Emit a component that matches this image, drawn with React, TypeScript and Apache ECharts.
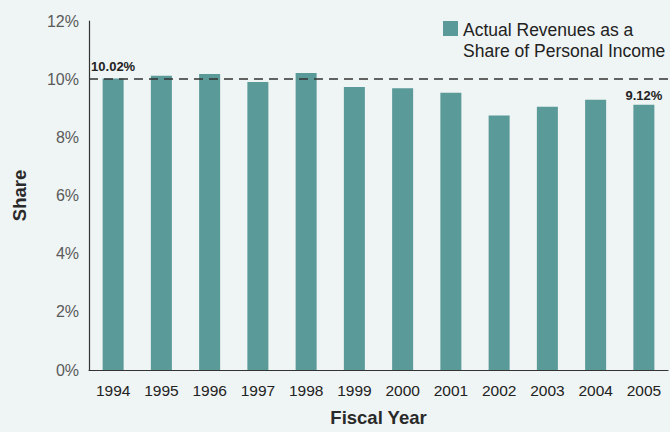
import React, { useEffect, useRef } from "react";
import * as echarts from "echarts";

const years = ["1994", "1995", "1996", "1997", "1998", "1999", "2000", "2001", "2002", "2003", "2004", "2005"];
const shares = [10.02, 10.12, 10.18, 9.9, 10.21, 9.73, 9.69, 9.53, 8.75, 9.05, 9.29, 9.12];
const labeledIndices = [0, 11];
const referenceLevel = 10;
const legendLines = ["Actual Revenues as a", "Share of Personal Income"];

const FONT = "'Liberation Sans', Arial, Helvetica, sans-serif";
const BAR = "#5a9a98";

export default function App() {
  const ref = useRef<HTMLDivElement>(null);
  useEffect(() => {
    if (!ref.current) return;
    const chart = echarts.init(ref.current, null, { renderer: "svg" });
    chart.setOption({
      animation: false,
      backgroundColor: "#eff4f4",
      grid: { left: 89, right: 2, top: 21, bottom: 56 },
      xAxis: {
        type: "category",
        data: years,
        name: "Fiscal Year",
        nameLocation: "middle",
        nameGap: 38,
        nameTextStyle: { fontFamily: FONT, fontSize: 18.5, fontWeight: "bold", color: "#2a2a2a" },
        axisLine: { lineStyle: { color: "#333", width: 1.2 } },
        axisTick: { show: false },
        axisLabel: { fontFamily: FONT, fontSize: 15.5, color: "#222", margin: 12 },
      },
      yAxis: {
        type: "value",
        min: 0,
        max: 12,
        interval: 2,
        name: "Share",
        nameLocation: "middle",
        nameGap: 60,
        nameTextStyle: { fontFamily: FONT, fontSize: 18.5, fontWeight: "bold", color: "#2a2a2a" },
        axisLine: { show: true, lineStyle: { color: "#333", width: 1.2 } },
        axisTick: { show: false },
        splitLine: { show: false },
        axisLabel: {
          fontFamily: FONT,
          fontSize: 16,
          color: "#5a5a5a",
          margin: 10,
          formatter: (v: number) => v + "%",
        },
      },
      series: [
        {
          type: "bar",
          name: legendLines.join(" "),
          data: shares.map((v, i) => ({
            value: v,
            label: {
              show: labeledIndices.includes(i),
              position: "top",
              distance: i === 0 ? 6 : 3,
              formatter: (p: any) => p.value.toFixed(2) + "%",
              fontFamily: FONT,
              fontSize: 13,
              fontWeight: "bold",
              color: "#222",
            },
          })),
          barWidth: 21,
          itemStyle: { color: BAR },
          markLine: {
            silent: true,
            symbol: "none",
            label: { show: false },
            lineStyle: { color: "#333", type: [9, 6], width: 1.5 },
            data: [{ yAxis: referenceLevel }],
          },
        },
      ],
      graphic: [
        { type: "rect", left: 443, top: 21, shape: { width: 15, height: 15 }, style: { fill: BAR } },
        {
          type: "text",
          left: 463,
          top: 19,
          style: {
            text: legendLines.join("\n"),
            fontFamily: FONT,
            fontSize: 17.5,
            lineHeight: 21,
            fill: "#222",
          },
        },
      ],
    });
    return () => chart.dispose();
  }, []);
  return <div ref={ref} style={{ width: 670, height: 432, position: "absolute", left: 0, top: 0 }} />;
}
